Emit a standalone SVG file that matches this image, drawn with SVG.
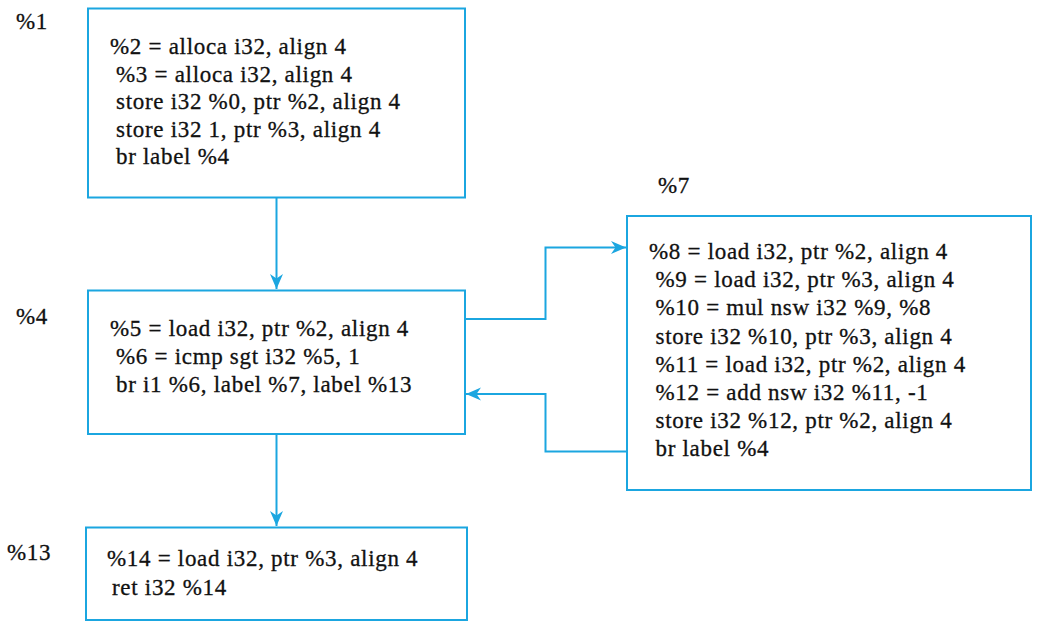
<svg xmlns="http://www.w3.org/2000/svg" width="1047" height="626" viewBox="0 0 1047 626">
<style>
.box{fill:#fff;stroke:#1BA6E0;stroke-width:2}
.edge{fill:none;stroke:#1BA6E0;stroke-width:2}
.t{font-family:'Liberation Serif','Times New Roman',Times,serif;font-size:23px;letter-spacing:0.7px;fill:#111}
.t text{stroke:#111;stroke-width:0.3px}
</style>
<defs>
<marker id="arr" markerUnits="userSpaceOnUse" markerWidth="20" markerHeight="16" viewBox="-16 -8 17 16" refX="0" refY="0" orient="auto">
<path d="M0,0 L-15,-6.5 L-10.5,0 L-15,6.5 Z" fill="#1BA6E0"/>
</marker>
</defs>
<rect width="1047" height="626" fill="#fff"/>
<g id="edges">
<path class="edge" d="M276.5,198 V289" marker-end="url(#arr)"/>
<path class="edge" d="M276.5,434 V526" marker-end="url(#arr)"/>
<path class="edge" d="M465,319 H545.5 V247.5 H626" marker-end="url(#arr)"/>
<path class="edge" d="M627,451.5 H545.5 V394 H466" marker-end="url(#arr)"/>
</g>
<g id="n1" class="t">
<text x="16" y="29">%1</text>
<rect class="box" x="88" y="8.5" width="377" height="189"/>
<text x="110" y="54">%2 = alloca i32, align 4</text>
<text x="116" y="81.5">%3 = alloca i32, align 4</text>
<text x="116" y="109">store i32 %0, ptr %2, align 4</text>
<text x="116" y="136.5">store i32 1, ptr %3, align 4</text>
<text x="116" y="164">br label %4</text>
</g>
<g id="n4" class="t">
<text x="16" y="324">%4</text>
<rect class="box" x="88" y="290.5" width="377" height="143.5"/>
<text x="110" y="336">%5 = load i32, ptr %2, align 4</text>
<text x="116" y="364">%6 = icmp sgt i32 %5, 1</text>
<text x="116" y="392">br i1 %6, label %7, label %13</text>
</g>
<g id="n7" class="t">
<text x="658" y="193">%7</text>
<rect class="box" x="627" y="216" width="404" height="274"/>
<text x="649" y="259">%8 = load i32, ptr %2, align 4</text>
<text x="655.5" y="287.2">%9 = load i32, ptr %3, align 4</text>
<text x="655.5" y="315.4">%10 = mul nsw i32 %9, %8</text>
<text x="655.5" y="343.6">store i32 %10, ptr %3, align 4</text>
<text x="655.5" y="371.8">%11 = load i32, ptr %2, align 4</text>
<text x="655.5" y="400">%12 = add nsw i32 %11, -1</text>
<text x="655.5" y="428.2">store i32 %12, ptr %2, align 4</text>
<text x="655.5" y="456.4">br label %4</text>
</g>
<g id="n13" class="t">
<text x="7" y="560">%13</text>
<rect class="box" x="86" y="527.5" width="381" height="92.5"/>
<text x="107" y="566">%14 = load i32, ptr %3, align 4</text>
<text x="112" y="595">ret i32 %14</text>
</g>
</svg>
